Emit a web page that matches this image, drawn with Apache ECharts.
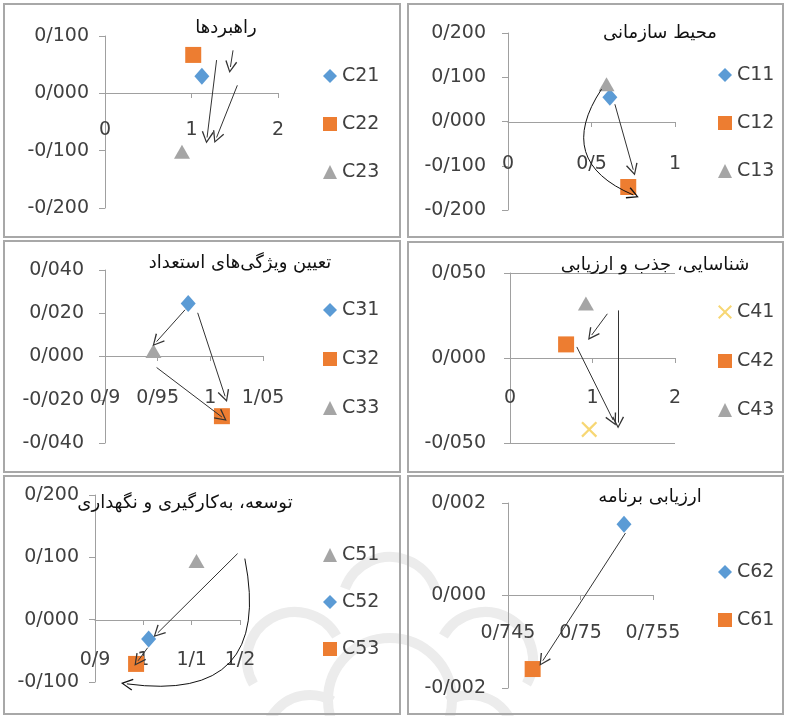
<!DOCTYPE html>
<html><head><meta charset="utf-8">
<script src="https://cdn.jsdelivr.net/npm/echarts@6/dist/echarts.min.js"></script>
<style>html,body{margin:0;padding:0;background:#fff}#c{width:786px;height:716px}</style>
</head><body><div id="c"></div>
<script>
// ---------- DATA ----------
// Panel 1
const p1Title = 'راهبردها';
const p1Names = ['C21', 'C22', 'C23'];
const p1X = [1.12, 1.02, 0.89];
const p1Y = [0.030, 0.067, -0.102];
const p1XAxis = [0, 2, 1];          // min, max, interval
const p1YAxis = [-0.2, 0.1, 0.1];
const p1Arrows = [[[1.29, 0.058], [1.18, -0.077]], [[1.53, 0.014], [1.29, -0.077]], [[1.48, 0.075], [1.45, 0.046]]];
const p1Curves = [];

// Panel 2
const p2Title = 'محیط سازمانی';
const p2Names = ['C11', 'C12', 'C13'];
const p2X = [0.61, 0.72, 0.59];
const p2Y = [0.055, -0.148, 0.084];
const p2XAxis = [0, 1, 0.5];
const p2YAxis = [-0.2, 0.2, 0.1];
const p2Arrows = [[[0.64, 0.039], [0.75, -0.109]]];
const p2Curves = [[[0.56, 0.073], [0.75, -0.166]]];

// Panel 3
const p3Title = 'تعیین ویژگی‌های استعداد';
const p3Names = ['C31', 'C32', 'C33'];
const p3X = [0.979, 1.011, 0.946];
const p3Y = [0.0245, -0.0276, 0.0025];
const p3XAxis = [0.9, 1.05, 0.05];
const p3YAxis = [-0.04, 0.04, 0.02];
const p3Arrows = [[[0.976, 0.0216], [0.949, 0.0069]], [[0.988, 0.0202], [1.014, -0.0184]], [[0.949, -0.0051], [1.011, -0.0280]]];
const p3Curves = [];

// Panel 4
const p4Title = 'شناسایی، جذب و ارزیابی';
const p4Names = ['C41', 'C42', 'C43'];
const p4X = [0.96, 0.68, 0.92];
const p4Y = [-0.042, 0.008, 0.032];
const p4XAxis = [0, 2, 1];
const p4YAxis = [-0.05, 0.05, 0.05];
const p4Arrows = [[[1.18, 0.026], [0.99, 0.0135]], [[0.81, 0.0065], [1.25, -0.0365]], [[1.31, 0.028], [1.31, -0.038]]];
const p4Curves = [];

// Panel 5
const p5Title = 'توسعه، به‌کارگیری و نگهداری';
const p5Names = ['C51', 'C52', 'C53'];
const p5X = [1.11, 1.011, 0.985];
const p5Y = [0.094, -0.031, -0.071];
const p5XAxis = [0.9, 1.2, 0.1];
const p5YAxis = [-0.1, 0.2, 0.1];
const p5Arrows = [[[1.195, 0.106], [1.03, -0.021]], [[1.009, -0.045], [0.989, -0.066]]];
const p5Curves = [[[1.21, 0.098], [0.966, -0.103]]];

// Panel 6
const p6Title = 'ارزیابی برنامه';
const p6Names = ['C62', 'C61'];
const p6X = [0.753, 0.7467];
const p6Y = [0.00154, -0.00159];
const p6XAxis = [0.745, 0.755, 0.005];
const p6YAxis = [-0.002, 0.002, 0.002];
const p6Arrows = [[[0.7531, 0.00135], [0.7474, -0.00141]]];
const p6Curves = [];

// ---------- STYLE / LAYOUT ----------
const XPATH = 'path://M0,1 L1,0 L5,4 L9,0 L10,1 L6,5 L10,9 L9,10 L5,6 L1,10 L0,9 L4,5 Z';
const KIND = {
  d: { symbol: 'diamond', color: '#5b9bd5', size: [15, 17], icon: 'diamond' },
  s: { symbol: 'rect', color: '#ed7d31', size: 16, icon: 'rect' },
  t: { symbol: 'triangle', color: '#a5a5a5', size: [16, 14], icon: 'triangle' },
  x: { symbol: XPATH, color: '#f7d774', size: 16, icon: XPATH }
};
const ARROW = 'path://M5,0 L10,10 L9,10.6 L5,2.2 L1,10.6 L0,10 Z';
const FONT = 'DejaVu Sans';

const panels = [
  { title: p1Title, names: p1Names, xs: p1X, ys: p1Y, xa: p1XAxis, ya: p1YAxis, arrows: p1Arrows, curves: p1Curves, curv: 0,
    kinds: ['d', 's', 't'], grid: [105, 36, 173, 172], xMargin: 28, yMargin: 16, legend: [323, 66, 48], titlePos: [226, 28], split: false },
  { title: p2Title, names: p2Names, xs: p2X, ys: p2Y, xa: p2XAxis, ya: p2YAxis, arrows: p2Arrows, curves: p2Curves, curv: -0.6,
    kinds: ['d', 's', 't'], grid: [508, 33, 167, 177], xMargin: 33, yMargin: 22, legend: [718, 65, 48], titlePos: [660, 33], split: false },
  { title: p3Title, names: p3Names, xs: p3X, ys: p3Y, xa: p3XAxis, ya: p3YAxis, arrows: p3Arrows, curves: p3Curves, curv: 0,
    kinds: ['d', 's', 't'], grid: [105, 270, 158, 173], xMargin: 33, yMargin: 21, legend: [323, 300, 49], titlePos: [240, 263], split: false },
  { title: p4Title, names: p4Names, xs: p4X, ys: p4Y, xa: p4XAxis, ya: p4YAxis, arrows: p4Arrows, curves: p4Curves, curv: 0,
    kinds: ['x', 's', 't'], grid: [510, 273, 165, 170], xMargin: 31, yMargin: 24, legend: [718, 302, 49], titlePos: [655, 265], split: true },
  { title: p5Title, names: p5Names, xs: p5X, ys: p5Y, xa: p5XAxis, ya: p5YAxis, arrows: p5Arrows, curves: p5Curves, curv: 0.7,
    kinds: ['t', 'd', 's'], grid: [95, 495, 145, 187], xMargin: 31, yMargin: 16, legend: [323, 545, 47], titlePos: [185, 503], split: false },
  { title: p6Title, names: p6Names, xs: p6X, ys: p6Y, xa: p6XAxis, ya: p6YAxis, arrows: p6Arrows, curves: p6Curves, curv: 0,
    kinds: ['d', 's'], grid: [508, 503, 145, 185], xMargin: 29, yMargin: 22, legend: [718, 562, 48], titlePos: [650, 497], split: false }
];
const borders = [[4, 4, 396, 233], [408, 4, 375, 233], [4, 241, 396, 231], [408, 242, 375, 230], [4, 476, 396, 238], [408, 476, 375, 238]];

const fmtY = v => { if (Math.abs(v) < 1e-12) v = 0; return v.toFixed(3).replace('.', '/'); };
const fmtX = v => String(+v.toFixed(4)).replace('.', '/');

const grid = [], xAxis = [], yAxis = [], legend = [], series = [], graphic = [];
const axisLineStyle = { color: '#a0a0a0', width: 1 };

// faint decorative watermark behind the bottom panels (background ornament, not data)
const wm = { cx: 390, cy: 700 };
[[0, 0, 62, 0, 360], [0, -95, 48, 200, 340], [-95, -40, 48, 150, 330], [95, -40, 48, 210, 390], [-80, 40, 45, 180, 300], [80, 40, 45, 240, 360]]
  .forEach(a => graphic.push({ type: 'arc', z: -1, silent: true,
    shape: { cx: wm.cx + a[0], cy: wm.cy + a[1], r: a[2], startAngle: a[3] * Math.PI / 180, endAngle: a[4] * Math.PI / 180 },
    style: { fill: 'none', stroke: '#ececec', lineWidth: 10 } }));

panels.forEach((p, i) => {
  grid.push({ left: p.grid[0], top: p.grid[1], width: p.grid[2], height: p.grid[3], containLabel: false });
  // shift the whole x axis (line, ticks, labels) up to y = 0, as in the original
  const zeroOffset = -Math.round(p.grid[3] * (0 - p.ya[0]) / (p.ya[1] - p.ya[0]));
  xAxis.push({ gridIndex: i, type: 'value', min: p.xa[0], max: p.xa[1], interval: p.xa[2], position: 'bottom', offset: zeroOffset,
    axisLine: { show: true, onZero: false, lineStyle: axisLineStyle },
    axisTick: { show: true, inside: false, length: 5, lineStyle: axisLineStyle },
    axisLabel: { margin: p.xMargin, color: '#404040', fontSize: 19, fontFamily: FONT, formatter: fmtX, showMinLabel: true, showMaxLabel: true, hideOverlap: false },
    splitLine: { show: false } });
  yAxis.push({ gridIndex: i, type: 'value', min: p.ya[0], max: p.ya[1], interval: p.ya[2],
    axisLine: { show: true, onZero: false, lineStyle: axisLineStyle },
    axisTick: { show: true, inside: false, length: 6, lineStyle: axisLineStyle },
    axisLabel: { margin: p.yMargin, color: '#404040', fontSize: 19, fontFamily: FONT, formatter: fmtY, showMinLabel: true, showMaxLabel: true },
    splitLine: { show: p.split, lineStyle: { color: '#a0a0a0', width: 1 } } });
  legend.push({ orient: 'vertical', left: p.legend[0], top: p.legend[1], itemWidth: 14, itemHeight: 14,
    itemGap: p.legend[2] - 20, padding: 0, selectedMode: false,
    textStyle: { color: '#404040', fontSize: 19, fontFamily: FONT, lineHeight: 20 },
    data: p.names.map((n, k) => ({ name: n, icon: KIND[p.kinds[k]].icon })) });
  p.names.forEach((n, k) => {
    const K = KIND[p.kinds[k]];
    series.push({ type: 'scatter', name: n, xAxisIndex: i, yAxisIndex: i, symbol: K.symbol, symbolSize: K.size,
      itemStyle: { color: K.color, opacity: 1 }, data: [[p.xs[k], p.ys[k]]], z: 3, silent: true });
  });
  if (p.arrows.length) series.push({ type: 'lines', coordinateSystem: 'cartesian2d', xAxisIndex: i, yAxisIndex: i, silent: true, z: 5, clip: false,
    symbol: ['none', ARROW], symbolSize: [10, 12], lineStyle: { color: '#333', width: 1, opacity: 1, curveness: 0 },
    data: p.arrows.map(a => ({ coords: a })) });
  if (p.curves.length) series.push({ type: 'lines', coordinateSystem: 'cartesian2d', xAxisIndex: i, yAxisIndex: i, silent: true, z: 5, clip: false,
    symbol: ['none', ARROW], symbolSize: [10, 12], lineStyle: { color: '#111', width: 1, opacity: 1, curveness: p.curv },
    data: p.curves.map(a => ({ coords: a })) });
  graphic.push({ type: 'text', x: p.titlePos[0], y: p.titlePos[1], z: 10,
    style: { text: p.title, font: '18px "' + FONT + '"', fill: '#111', align: 'center', verticalAlign: 'middle' } });
});
borders.forEach(b => graphic.push({ type: 'rect', shape: { x: b[0], y: b[1], width: b[2], height: b[3] }, z: 0,
  style: { fill: 'none', stroke: '#a8a8a8', lineWidth: 2 } }));

const chart = echarts.init(document.getElementById('c'), null, { renderer: 'canvas' });
chart.setOption({ animation: false, backgroundColor: '#fff', grid, xAxis, yAxis, legend, series, graphic });
</script></body></html>
